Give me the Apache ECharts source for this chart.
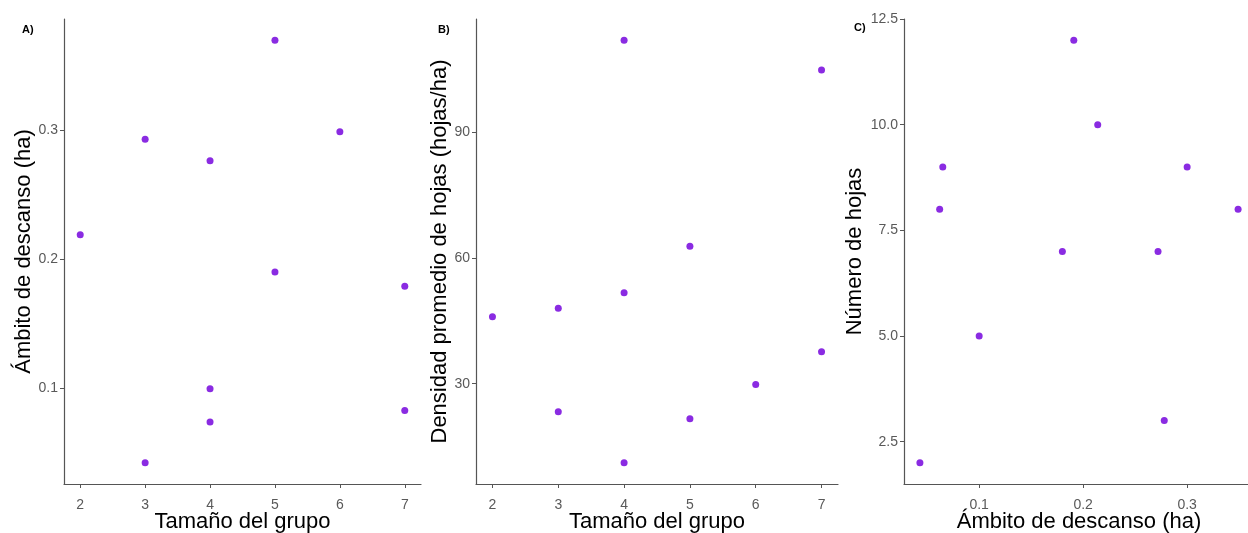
<!DOCTYPE html>
<html>
<head>
<meta charset="utf-8">
<script src="https://cdn.jsdelivr.net/npm/echarts@6/dist/echarts.min.js"></script>
<style>
html,body{margin:0;padding:0;background:#fff;}
#chart{width:1248px;height:533px;}
</style>
</head>
<body>
<div id="chart"></div>
<script>
// Panel A: group size vs resting range
var groupA = [2, 3, 3, 4, 4, 4, 5, 5, 6, 7, 7];
var rangeA = [0.219, 0.293, 0.042, 0.2765, 0.0995, 0.0737, 0.370, 0.190, 0.299, 0.179, 0.0827];
// Panel B: group size vs mean leaf density
var groupB = [2, 3, 3, 4, 4, 4, 5, 5, 6, 7, 7];
var densityB = [46, 48, 23.3, 112, 51.7, 11.1, 62.8, 21.6, 29.8, 104.9, 37.6];
// Panel C: resting range vs number of leaves
var rangeC = [0.043, 0.062, 0.065, 0.100, 0.180, 0.191, 0.214, 0.272, 0.278, 0.300, 0.349];
var leavesC = [2, 8, 9, 5, 7, 12, 10, 7, 3, 9, 8];
// tick labels
var ticksGroup = [2, 3, 4, 5, 6, 7];
var ticksRangeA = [0.1, 0.2, 0.3];
var ticksDensity = [30, 60, 90];
var ticksRangeC = [0.1, 0.2, 0.3];
var ticksLeaves = [2.5, 5.0, 7.5, 10.0, 12.5];

var panelLabels = ['A)', 'B)', 'C)'];
var xTitles = ['Tamaño del grupo', 'Tamaño del grupo', 'Ámbito de descanso (ha)'];
var yTitles = ['Ámbito de descanso (ha)', 'Densidad promedio de hojas (hojas/ha)', 'Número de hojas'];

function pairs(xs, ys) { return xs.map(function (x, i) { return [x, ys[i]]; }); }
function ext(arr) {
  var mn = Math.min.apply(null, arr), mx = Math.max.apply(null, arr), d = (mx - mn) * 0.05;
  return [mn - d, mx + d];
}

var FONT = '"Liberation Sans", Arial, sans-serif';
var AXIS_COLOR = '#555555';
var LABEL_COLOR = '#595959';
var PURPLE = '#8a2be2';

function makeAxis(kind, idx, range, ticks, fmt, name, gap) {
  return {
    type: 'value',
    gridIndex: idx,
    min: range[0],
    max: range[1],
    name: name,
    nameLocation: 'middle',
    nameGap: gap,
    nameMoveOverlap: false,
    nameTextStyle: { fontFamily: FONT, fontSize: 22, color: '#000' },
    axisLine: { show: true, onZero: false, lineStyle: { color: AXIS_COLOR, width: 1.2 } },
    axisTick: { show: true, length: 4, customValues: ticks, lineStyle: { color: AXIS_COLOR } },
    axisLabel: { show: true, customValues: ticks, margin: kind === 'x' ? 14 : 6, fontFamily: FONT, fontSize: 14, color: LABEL_COLOR, formatter: fmt },
    splitLine: { show: false }
  };
}

var fmtInt = function (v) { return String(Math.round(v)); };
var fmt1 = function (v) { return (Math.round(v * 10) / 10).toString(); };
var fmtFixed1 = function (v) { return v.toFixed(1); };

var grids = [
  { left: 64, top: 19, width: 357, height: 465, containLabel: false, outerBoundsMode: 'none' },
  { left: 476, top: 19, width: 362, height: 465, containLabel: false, outerBoundsMode: 'none' },
  { left: 904, top: 19, width: 350, height: 465, containLabel: false, outerBoundsMode: 'none' }
];

var option = {
  backgroundColor: '#ffffff',
  animation: false,
  title: [
    { text: panelLabels[0], left: 17, top: 19, textStyle: { fontFamily: FONT, fontSize: 11, fontWeight: 'bold', color: '#000' } },
    { text: panelLabels[1], left: 433, top: 19, textStyle: { fontFamily: FONT, fontSize: 11, fontWeight: 'bold', color: '#000' } },
    { text: panelLabels[2], left: 849, top: 17, textStyle: { fontFamily: FONT, fontSize: 11, fontWeight: 'bold', color: '#000' } }
  ],
  grid: grids,
  xAxis: [
    makeAxis('x', 0, ext(groupA), ticksGroup, fmtInt, xTitles[0], 27),
    makeAxis('x', 1, ext(groupB), ticksGroup, fmtInt, xTitles[1], 27),
    makeAxis('x', 2, ext(rangeC), ticksRangeC, fmt1, xTitles[2], 27)
  ],
  yAxis: [
    makeAxis('y', 0, ext(rangeA), ticksRangeA, fmt1, yTitles[0], 29),
    makeAxis('y', 1, ext(densityB), ticksDensity, fmtInt, yTitles[1], 25),
    makeAxis('y', 2, ext(leavesC), ticksLeaves, fmtFixed1, yTitles[2], 38)
  ],
  series: [
    { type: 'scatter', xAxisIndex: 0, yAxisIndex: 0, data: pairs(groupA, rangeA), symbolSize: 7, itemStyle: { color: PURPLE, opacity: 1 } },
    { type: 'scatter', xAxisIndex: 1, yAxisIndex: 1, data: pairs(groupB, densityB), symbolSize: 7, itemStyle: { color: PURPLE, opacity: 1 } },
    { type: 'scatter', xAxisIndex: 2, yAxisIndex: 2, data: pairs(rangeC, leavesC), symbolSize: 7, itemStyle: { color: PURPLE, opacity: 1 } }
  ]
};

var chart = echarts.init(document.getElementById('chart'), null, { renderer: 'canvas' });
chart.setOption(option);
</script>
</body>
</html>
